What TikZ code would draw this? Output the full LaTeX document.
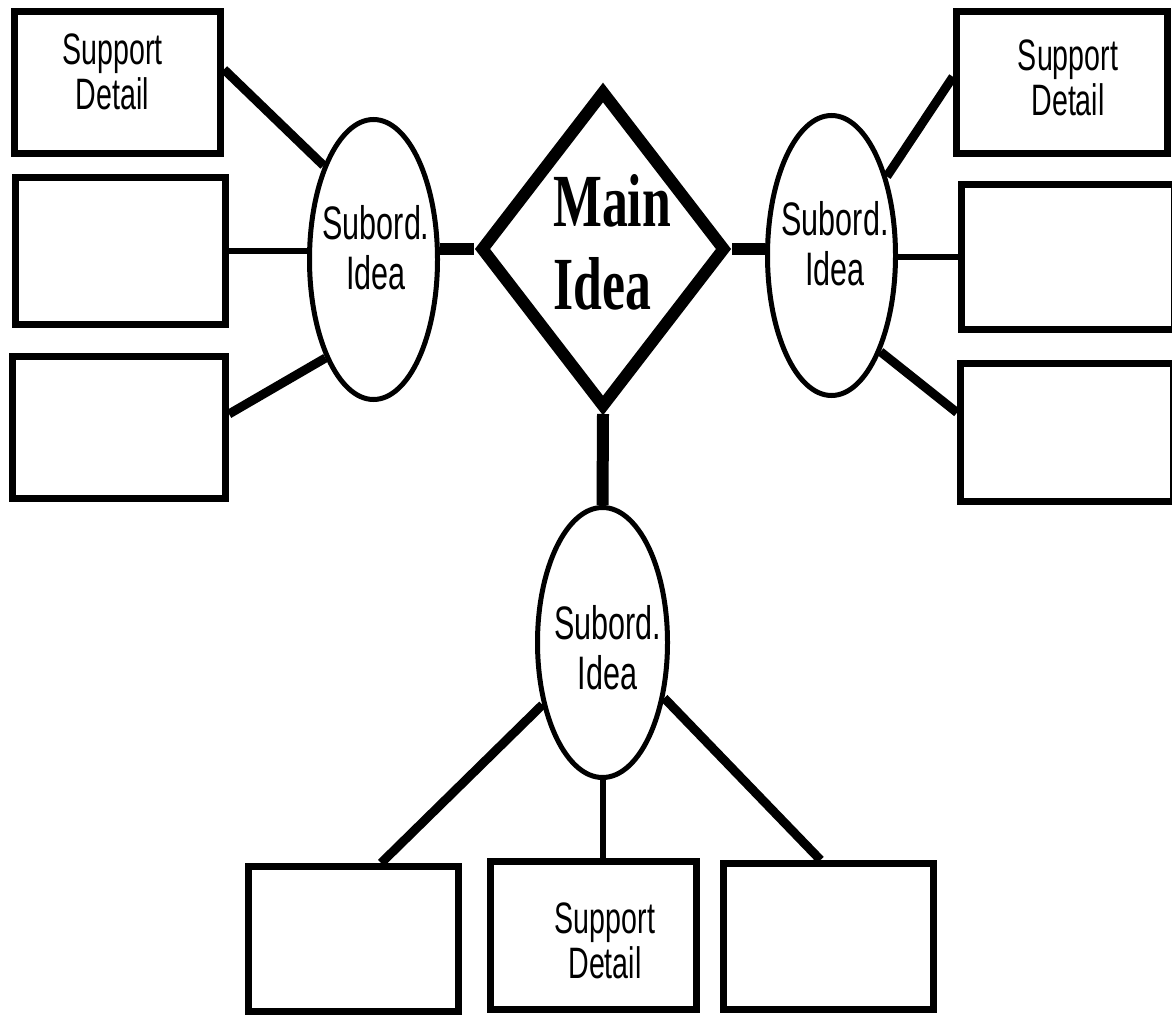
\documentclass[tikz,border=0pt]{standalone}
\usepackage{fontspec}
\setmainfont{Liberation Serif}
\newfontfamily\condsans[FakeStretch=0.65]{Liberation Sans}
\newfontfamily\condserif[FakeStretch=0.69]{Liberation Serif}
\usetikzlibrary{shapes.geometric}
\begin{document}
\begin{tikzpicture}[x=1pt,y=-1pt,
  detailbox/.style={draw=black, line width=7pt, rectangle, inner sep=0pt},
  subord/.style={draw=black, line width=5pt, ellipse, inner sep=0pt, minimum width=128pt, minimum height=280pt},
  maindia/.style={draw=black, line width=12pt, diamond, inner sep=0pt, minimum width=246pt, minimum height=318pt},
  sdtext/.style={inner sep=0pt, align=center, font=\condsans\fontsize{44}{45}\selectfont},
  subtext/.style={inner sep=0pt, align=center, font=\condsans\fontsize{47}{50}\selectfont},
  maintext/.style={inner sep=0pt, align=left, font=\condserif\bfseries\fontsize{75}{83}\selectfont},
  thickc/.style={draw=black, line width=9pt},
  thinc/.style={draw=black, line width=6pt},
  heavyc/.style={draw=black, line width=12pt}
]
\useasboundingbox (0,0) rectangle (1172,1019);

% main idea
\node[maindia] (main) at (603,249) {};
\node[maintext, anchor=west] (maintxt) at (553,242.5) {Main\\Idea};

% subordinate ideas
\node[subord] (eL) at (373.5,259.5) {};
\node[subord] (eR) at (831.5,255.5) {};
\node[subord, minimum width=130pt, minimum height=270pt] (eB) at (602.5,642.5) {};
\node[subtext] (sL) at (376,247.5) {Subord.\\Idea};
\node[subtext] (sR) at (835,243.5) {Subord.\\Idea};
\node[subtext] (sB) at (607.5,647.5) {Subord.\\Idea};

% support detail boxes
\node[detailbox, minimum width=206pt, minimum height=142pt] (L1) at (117.5,82.5) {};
\node[detailbox, minimum width=210pt, minimum height=147pt] (L2) at (120.5,251) {};
\node[detailbox, minimum width=213pt, minimum height=142pt] (L3) at (119,427.5) {};
\node[detailbox, minimum width=211pt, minimum height=142pt] (R1) at (1062,82.5) {};
\node[detailbox, minimum width=213pt, minimum height=144pt] (R2) at (1068,257) {};
\node[detailbox, minimum width=213pt, minimum height=138pt] (R3) at (1067,432) {};
\node[detailbox, minimum width=210pt, minimum height=145pt] (B1) at (353.5,939) {};
\node[detailbox, minimum width=206pt, minimum height=148pt] (B2) at (593.5,935.5) {};
\node[detailbox, minimum width=210pt, minimum height=146pt] (B3) at (828.5,936.5) {};

\node[sdtext] (tL1) at (112.5,72) {Support\\Detail};
\node[sdtext] (tR1) at (1068,77.5) {Support\\Detail};
\node[sdtext] (tB2) at (605,941) {Support\\Detail};

% connectors: main idea to subordinate ideas
\draw[heavyc] (main.west -| eL.east) -- (main.west);
\draw[heavyc] (main.east) -- (main.east -| eR.west);
\draw[heavyc] (main.south) -- (eB.north);

% left group
\draw[thickc] (L1.7) -- (eL.118);
\draw[thinc] (L2.east) -- (L2.east -| eL.west);
\draw[thickc] (L3.7) -- (eL.244);

% right group
\draw[thickc] (R1.177) -- (eR.55);
\draw[thinc] (R2.west) -- (R2.west -| eR.east);
\draw[thickc] (R3.170) -- (eR.297);

% bottom group
\draw[thickc] (B1.70) -- (eB.226);
\draw[thinc] (eB.south) -- (eB.south |- B2.north);
\draw[thickc] (B3.96) -- (eB.318);
\end{tikzpicture}
\end{document}
